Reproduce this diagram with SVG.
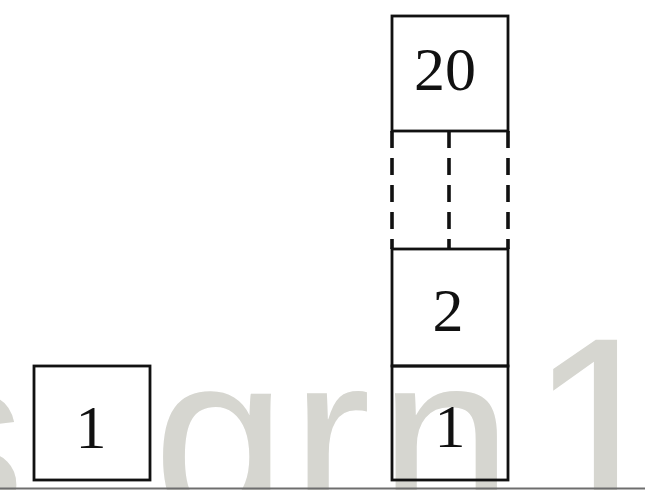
<svg xmlns="http://www.w3.org/2000/svg" width="645" height="490" viewBox="0 0 645 490">
  <style>
    .box { fill: none; stroke: #111; stroke-width: 2.8; }
    .dash { fill: none; stroke: #111; stroke-width: 3.6; stroke-dasharray: 17 10; }
    .num { font-family: "Liberation Serif", "Times New Roman", serif; font-size: 62px; fill: #111; text-anchor: middle; }
    .wm { font-family: "Liberation Sans", Arial, sans-serif; font-size: 240px; fill: #d6d6d0; }
  </style>
  <rect width="645" height="490" fill="#ffffff"/>
  <text class="wm" x="-95 153 291 379 515 540" y="520">sgrn <tspan font-size="262" x="528" y="520">1</tspan></text>
  <line x1="0" y1="488.5" x2="645" y2="488.5" stroke="#6e6e6e" stroke-width="2"/>
  <g id="node-left-1">
    <rect class="box" x="34" y="366" width="116" height="114"/>
    <text class="num" x="91" y="448">1</text>
  </g>
  <g id="node-20">
    <rect class="box" x="392" y="16" width="116" height="115"/>
    <text class="num" x="445" y="90">20</text>
  </g>
  <g id="node-dashed">
    <line class="dash" x1="392" y1="131" x2="392" y2="249"/>
    <line class="dash" x1="449" y1="131" x2="449" y2="249"/>
    <line class="dash" x1="508" y1="131" x2="508" y2="249"/>
  </g>
  <g id="node-2">
    <rect class="box" x="392" y="249" width="116" height="117"/>
    <text class="num" x="448" y="331">2</text>
  </g>
  <g id="node-stack-1">
    <rect class="box" x="392" y="366" width="116" height="114"/>
    <text class="num" x="450" y="447">1</text>
  </g>
  <g id="connectors"></g>
</svg>
